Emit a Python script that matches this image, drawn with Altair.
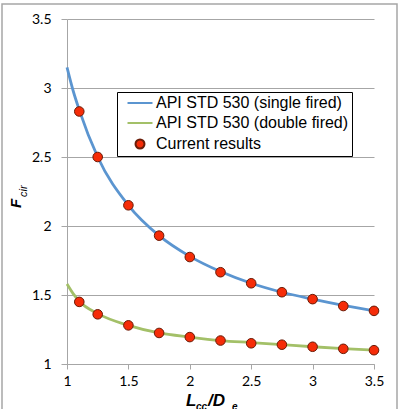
import altair as alt
import pandas as pd

# Curve samples of the API STD 530 correlations (L_cc/D_e vs F_cir)
ratio_curve = [1.0, 1.05, 1.1, 1.25, 1.5, 1.75, 2.0, 2.25, 2.5, 2.75, 3.0, 3.25, 3.5]
single_curve = [3.15, 2.98, 2.84, 2.50, 2.15, 1.93, 1.78, 1.67, 1.585, 1.52, 1.47, 1.425, 1.385]
double_curve = [1.58, 1.51, 1.455, 1.365, 1.28, 1.225, 1.195, 1.17, 1.155, 1.14, 1.125, 1.112, 1.10]

# Computed points
ratio_pts = [1.1, 1.25, 1.5, 1.75, 2.0, 2.25, 2.5, 2.75, 3.0, 3.25, 3.5]
single_pts = [2.83, 2.50, 2.15, 1.93, 1.775, 1.665, 1.585, 1.52, 1.47, 1.42, 1.385]
double_pts = [1.45, 1.36, 1.28, 1.225, 1.195, 1.17, 1.15, 1.14, 1.125, 1.11, 1.10]

tick_values = [1, 1.5, 2, 2.5, 3, 3.5]

SINGLE = "API STD 530 (single fired)"
DOUBLE = "API STD 530 (double fired)"
CURRENT = "Current results"
series_names = [SINGLE, DOUBLE, CURRENT]

BLUE = "#5b95d0"
GREEN = "#a3c068"
RED = "#f52c08"
DARK = "#6a1c08"
GRID = "#a6a6a6"

# symbol paths: a short stroke for the curves, a dot for the computed points
LINE_SYMBOL = "M-2,0H2"
DOT_SYMBOL = "M0.72,0A0.72,0.72,0,1,1,-0.72,0A0.72,0.72,0,1,1,0.72,0Z"

single_df = pd.DataFrame({"ratio": ratio_curve, "f": single_curve})
double_df = pd.DataFrame({"ratio": ratio_curve, "f": double_curve})
points = pd.DataFrame({
    "ratio": ratio_pts * 2,
    "f": single_pts + double_pts,
    "series": [CURRENT] * (2 * len(ratio_pts)),
})

x_enc = alt.X(
    "ratio:Q",
    scale=alt.Scale(domain=[1, 3.5], nice=False, zero=False),
    axis=alt.Axis(
        values=tick_values, format="~g", title=None, grid=False,
        domainColor=GRID, tickColor=GRID, tickSize=5,
        labelFont="Lato", labelFontSize=14, labelColor="black",
        labelPadding=5, labelFlush=False,
    ),
)
y_enc = alt.Y(
    "f:Q",
    scale=alt.Scale(domain=[1, 3.5], nice=False, zero=False),
    axis=alt.Axis(
        values=tick_values, format="~g", title=None, grid=True,
        gridColor=GRID, domainColor=GRID, tickColor=GRID, tickSize=6,
        labelFont="Lato", labelFontSize=14, labelColor="black",
        labelPadding=10, labelFlush=False,
    ),
)


def curve(df, color):
    return alt.Chart(df).mark_line(
        strokeWidth=2.8, interpolate="monotone", color=color
    ).encode(x=x_enc, y=y_enc)


legend = alt.Legend(
    title=None, orient="none", legendX=50, legendY=73,
    strokeColor="black", padding=3, symbolOffset=12,
    symbolSize=156, symbolFillColor=RED, symbolStrokeWidth=2,
    labelOffset=8, rowPadding=4,
    labelFont="Liberation Sans", labelFontSize=16, labelColor="black",
    labelLimit=400,
)

dots = alt.Chart(points).mark_point(
    filled=False, fill=RED, strokeWidth=1, size=178, opacity=1
).encode(
    x="ratio:Q",
    y="f:Q",
    color=alt.Color(
        "series:N",
        scale=alt.Scale(domain=series_names, range=[BLUE, GREEN, DARK]),
        legend=legend,
    ),
    shape=alt.Shape(
        "series:N",
        scale=alt.Scale(domain=series_names, range=[LINE_SYMBOL, LINE_SYMBOL, DOT_SYMBOL]),
        legend=legend,
    ),
)

blank = alt.Data(values=[{}])


def label(text, x, y, size, weight="normal", angle=0, align="left"):
    return alt.Chart(blank).mark_text(
        text=text, font="Liberation Sans", fontSize=size, fontStyle="italic",
        fontWeight=weight, angle=angle, align=align, baseline="alphabetic", color="black",
    ).encode(x=alt.value(x), y=alt.value(y))


# Axis titles with subscripts
x_title = [
    label("L", 119, 387, 17, "bold"),
    label("cc", 129, 391, 10, "bold"),
    label("/D", 141, 387, 17, "bold"),
    label("e", 165, 391, 10, "bold"),
]
y_title = [
    label("F", -46, 189, 15, "bold", angle=270),
    label("cir", -40, 178, 11, "normal", angle=270),
]

frame = alt.Chart(blank).mark_rect(fill=None, stroke=GRID, strokeWidth=1.5).encode(
    x=alt.value(-65), x2=alt.value(330), y=alt.value(-15), y2=alt.value(400)
)

chart = alt.layer(
    frame, curve(single_df, BLUE), curve(double_df, GREEN), dots, *x_title, *y_title
).properties(
    width=307, height=345,
    padding={"left": 67, "top": 19, "right": 25, "bottom": 45},
    autosize=alt.AutoSizeParams(type="none"),
    background="white",
).configure_view(stroke=None)

chart.save("out.html", embed_options={"renderer": "svg", "actions": False})
